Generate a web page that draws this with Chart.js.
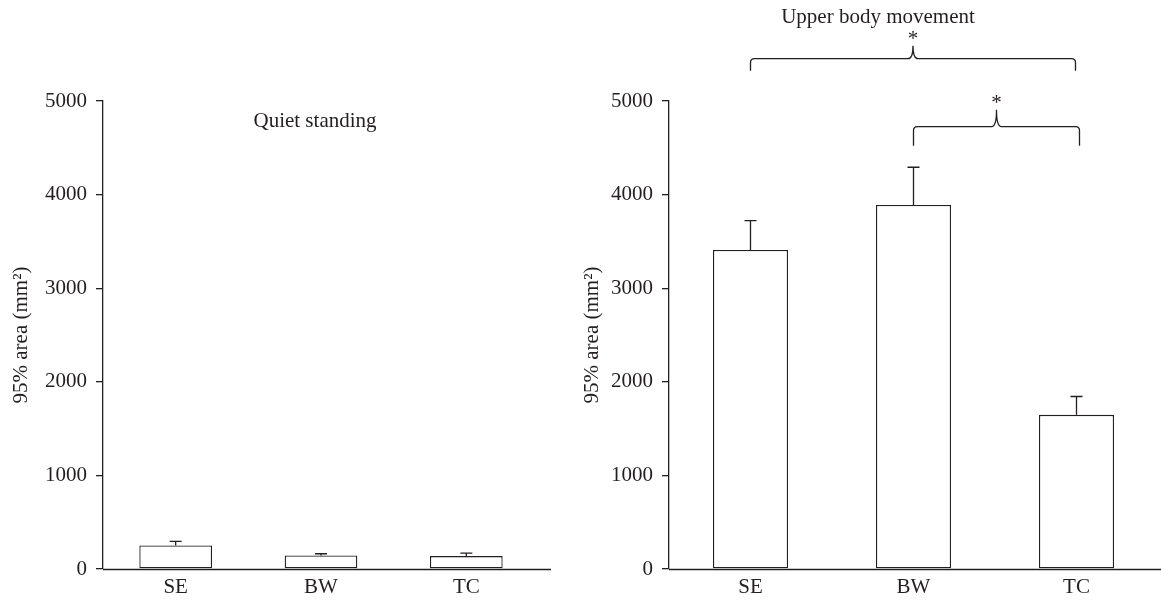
<!DOCTYPE html>
<html>
<head>
<meta charset="utf-8">
<script src="https://cdn.jsdelivr.net/npm/chart.js@4.4.0/dist/chart.umd.min.js"></script>
<style>
  body { margin: 0; background: #fff; }
  #wrap { position: relative; width: 1161px; height: 601px; }
  canvas { position: absolute; top: 0; }
</style>
</head>
<body>
<div id="wrap">
  <canvas id="quiet" width="580" height="601" style="left:0"></canvas>
  <canvas id="upper" width="581" height="601" style="left:580px"></canvas>
</div>
<script>
const groups = ["SE", "BW", "TC"];
const quietMean = [252, 145, 138];
const quietSd = [43, 18, 32];
const upperMean = [3409, 3890, 1647];
const upperSd = [313, 402, 196];
const upperSig = [[0, 2], [1, 2]]; // pairs marked with *

const ink = "#231f20";
const serif = "'Liberation Serif', 'DejaVu Serif', serif";
const fs = 21;

// error bars (upper half only), baseline, titles, brackets
const extras = {
  id: "extras",
  afterDatasetsDraw(chart, args, opts) {
    const ctx = chart.ctx;
    const y = chart.scales.y;
    const x = chart.scales.x;
    const area = chart.chartArea;
    ctx.save();
    ctx.strokeStyle = ink;
    ctx.lineWidth = 1.3;

    // baseline, runs a bit past the last bar
    const y0 = Math.round(y.getPixelForValue(0)) + 0.5;
    ctx.beginPath();
    ctx.moveTo(area.left, y0);
    ctx.lineTo(opts.axisEnd, y0);
    ctx.stroke();

    const meta = chart.getDatasetMeta(0);
    meta.data.forEach((bar, i) => {
      const top = y.getPixelForValue(opts.mean[i] + opts.sd[i]);
      ctx.beginPath();
      ctx.moveTo(bar.x, bar.y);
      ctx.lineTo(bar.x, top);
      ctx.moveTo(bar.x - 6, top);
      ctx.lineTo(bar.x + 6, top);
      ctx.stroke();
    });

    ctx.fillStyle = ink;
    ctx.font = fs + "px " + serif;
    ctx.textAlign = "center";
    ctx.textBaseline = "middle";
    ctx.fillText(opts.title, opts.titleX, opts.titleY);

    (opts.sig || []).forEach((pair, k) => {
      const x1 = x.getPixelForValue(pair[0]);
      const x2 = x.getPixelForValue(pair[1]) + opts.sigShift[k];
      const yl = y.getPixelForValue(opts.sigLevel[k]);
      const mid = (x1 + x2) / 2;
      const d = opts.sigDrop[k];
      const h = opts.sigRise[k];
      ctx.beginPath();
      ctx.moveTo(x1, yl + d);
      ctx.lineTo(x1, yl + 4);
      ctx.quadraticCurveTo(x1, yl, x1 + 4, yl);
      ctx.lineTo(mid - 5, yl);
      ctx.quadraticCurveTo(mid, yl, mid, yl - h);
      ctx.quadraticCurveTo(mid, yl, mid + 5, yl);
      ctx.lineTo(x2 - 4, yl);
      ctx.quadraticCurveTo(x2, yl, x2, yl + 4);
      ctx.lineTo(x2, yl + d);
      ctx.stroke();
      ctx.fillText("*", mid, yl - h - 6);
    });
    ctx.restore();
  }
};

function makeChart(el, mean, barPct, yWidth, titlePad, rightPad, extraOpts) {
  return new Chart(el, {
    type: "bar",
    data: {
      labels: groups,
      datasets: [{
        data: mean,
        backgroundColor: "#ffffff",
        borderColor: ink,
        borderWidth: 1.3,
        borderSkipped: false,
        barPercentage: barPct,
        categoryPercentage: 1
      }]
    },
    options: {
      responsive: false,
      animation: false,
      layout: { padding: { top: 101, right: rightPad, left: 0, bottom: 0 } },
      plugins: {
        legend: { display: false },
        tooltip: { enabled: false },
        extras: extraOpts
      },
      scales: {
        x: {
          grid: { drawOnChartArea: false, drawTicks: false },
          border: { display: false },
          ticks: { color: ink, font: { family: serif, size: fs }, padding: 6 },
          afterFit(s) { s.height = 32; }
        },
        y: {
          min: 0,
          max: 5000,
          ticks: {
            stepSize: 1000, color: ink, font: { family: serif, size: fs }, padding: 9,
            callback: v => String(v)
          },
          grid: { drawOnChartArea: false, drawTicks: true, tickLength: 7, color: ink, lineWidth: 1.3 },
          border: { display: true, color: ink, width: 1.3 },
          title: {
            display: true,
            text: "95% area (mm²)",
            color: ink,
            font: { family: serif, size: fs },
            padding: { top: titlePad, bottom: 0 }
          },
          afterFit(s) { s.width = yWidth; }
        }
      }
    },
    plugins: [extras]
  });
}

makeChart(document.getElementById("quiet"), quietMean, 0.5, 103, 9, 41, {
  mean: quietMean, sd: quietSd, axisEnd: 551,
  title: "Quiet standing", titleX: 315, titleY: 121
});

makeChart(document.getElementById("upper"), upperMean, 0.46, 89, 0, 3, {
  mean: upperMean, sd: upperSd, axisEnd: 581,
  title: "Upper body movement", titleX: 298, titleY: 17,
  sig: upperSig, sigLevel: [5452, 4726], sigDrop: [12, 19], sigRise: [13, 17], sigShift: [-1, 3]
});
</script>
</body>
</html>
